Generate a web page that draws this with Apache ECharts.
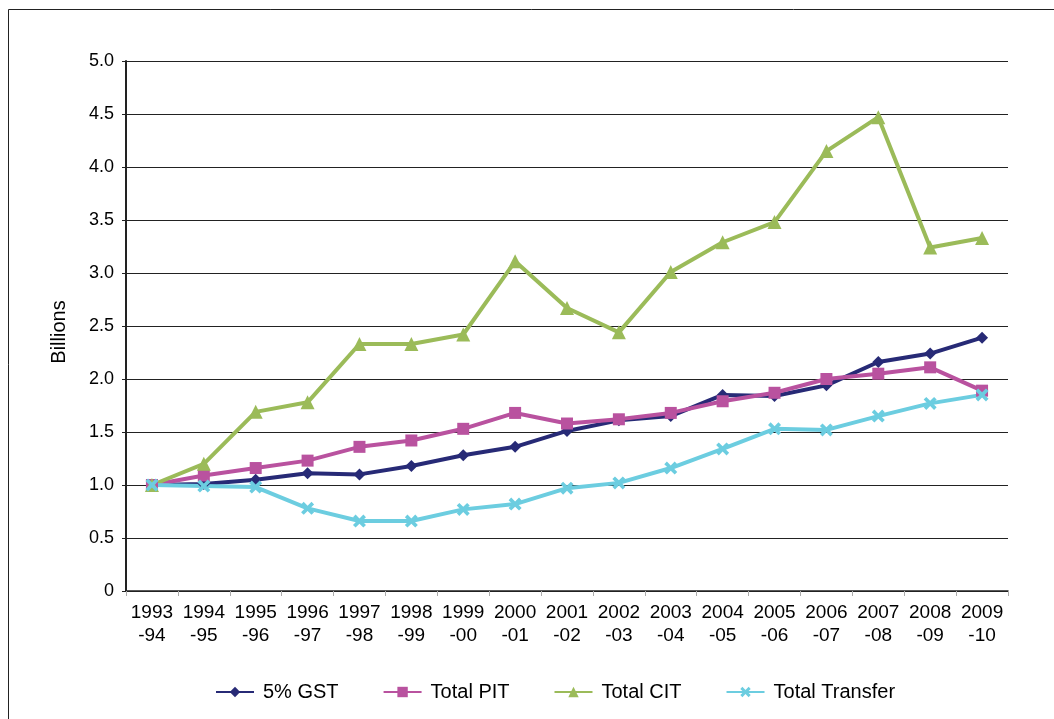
<!DOCTYPE html>
<html>
<head>
<meta charset="utf-8">
<script src="https://cdn.jsdelivr.net/npm/echarts@6/dist/echarts.min.js"></script>
<style>
  html, body { margin: 0; padding: 0; background: #fff; }
  #chart { width: 1054px; height: 719px; }
</style>
</head>
<body>
<div id="chart"></div>
<script>
var years = ['1993\n-94', '1994\n-95', '1995\n-96', '1996\n-97', '1997\n-98', '1998\n-99',
    '1999\n-00', '2000\n-01', '2001\n-02', '2002\n-03', '2003\n-04', '2004\n-05',
    '2005\n-06', '2006\n-07', '2007\n-08', '2008\n-09', '2009\n-10'];

var gst = [1.00, 1.01, 1.05, 1.11, 1.10, 1.18, 1.28, 1.36, 1.51, 1.61, 1.65, 1.85, 1.84, 1.94, 2.16, 2.24, 2.39];
var pit = [1.00, 1.09, 1.16, 1.23, 1.36, 1.42, 1.53, 1.68, 1.58, 1.62, 1.68, 1.79, 1.87, 2.00, 2.05, 2.11, 1.89];
var cit = [1.00, 1.20, 1.69, 1.78, 2.33, 2.33, 2.42, 3.11, 2.67, 2.44, 3.01, 3.29, 3.48, 4.15, 4.47, 3.24, 3.33];
var transfer = [1.00, 0.99, 0.98, 0.78, 0.66, 0.66, 0.77, 0.82, 0.97, 1.02, 1.16, 1.34, 1.53, 1.52, 1.65, 1.77, 1.85];

var font = '"Liberation Sans", Arial, Helvetica, sans-serif';
var crossSymbol = 'path://M0,2 L2,0 L5,3 L8,0 L10,2 L7,5 L10,8 L8,10 L5,7 L2,10 L0,8 L3,5 Z';

function makeSeries(name, data, color, symbol, size) {
    return {
        name: name,
        type: 'line',
        data: data,
        symbol: symbol,
        symbolSize: size,
        showAllSymbol: true,
        lineStyle: { color: color, width: 4 },
        itemStyle: { color: color },
        emphasis: { disabled: true },
        animation: false
    };
}

var chart = echarts.init(document.getElementById('chart'));

var option = {
    backgroundColor: '#fff',
    textStyle: { fontFamily: font },
    graphic: [{
        type: 'rect',
        shape: { x: 8.5, y: 9.5, width: 1200, height: 900 },
        style: { fill: 'none', stroke: '#222', lineWidth: 1 },
        silent: true
    }],
    grid: { left: 126, right: 46, top: 61, bottom: 128 },
    legend: {
        top: 677,
        left: 210,
        itemWidth: 38,
        itemHeight: 13,
        itemGap: 44,
        textStyle: { fontSize: 20, color: '#000', fontFamily: font, padding: [0, 0, 0, 4] },
        data: ['5% GST', 'Total PIT', 'Total CIT', 'Total Transfer']
    },
    xAxis: {
        type: 'category',
        data: years,
        boundaryGap: true,
        axisLine: { lineStyle: { color: '#222', width: 1.5 } },
        axisTick: { show: true, length: 5, lineStyle: { color: '#aaa' } },
        axisLabel: { color: '#000', fontSize: 19, lineHeight: 23, margin: 10, interval: 0, fontFamily: font }
    },
    yAxis: {
        type: 'value',
        min: 0,
        max: 5,
        interval: 0.5,
        name: 'Billions',
        nameLocation: 'middle',
        nameGap: 57,
        nameRotate: 90,
        nameTextStyle: { fontSize: 20, color: '#000', fontFamily: font, padding: [0, 12, 0, 0] },
        axisLine: { show: true, lineStyle: { color: '#222', width: 2 } },
        axisTick: { show: true, length: 4, lineStyle: { color: '#222' } },
        axisLabel: {
            color: '#000', fontSize: 18, margin: 12, fontFamily: font,
            formatter: function(v) { return v === 0 ? '0' : v.toFixed(1); }
        },
        splitLine: { lineStyle: { color: '#222', width: 1 } }
    },
    series: [
        makeSeries('5% GST', gst, '#272a76', 'diamond', 12),
        makeSeries('Total PIT', pit, '#b9529f', 'rect', 12),
        makeSeries('Total CIT', cit, '#9bbb59', 'triangle', 14),
        makeSeries('Total Transfer', transfer, '#6ccde0', crossSymbol, 13)
    ]
};

chart.setOption(option);
</script>
</body>
</html>
